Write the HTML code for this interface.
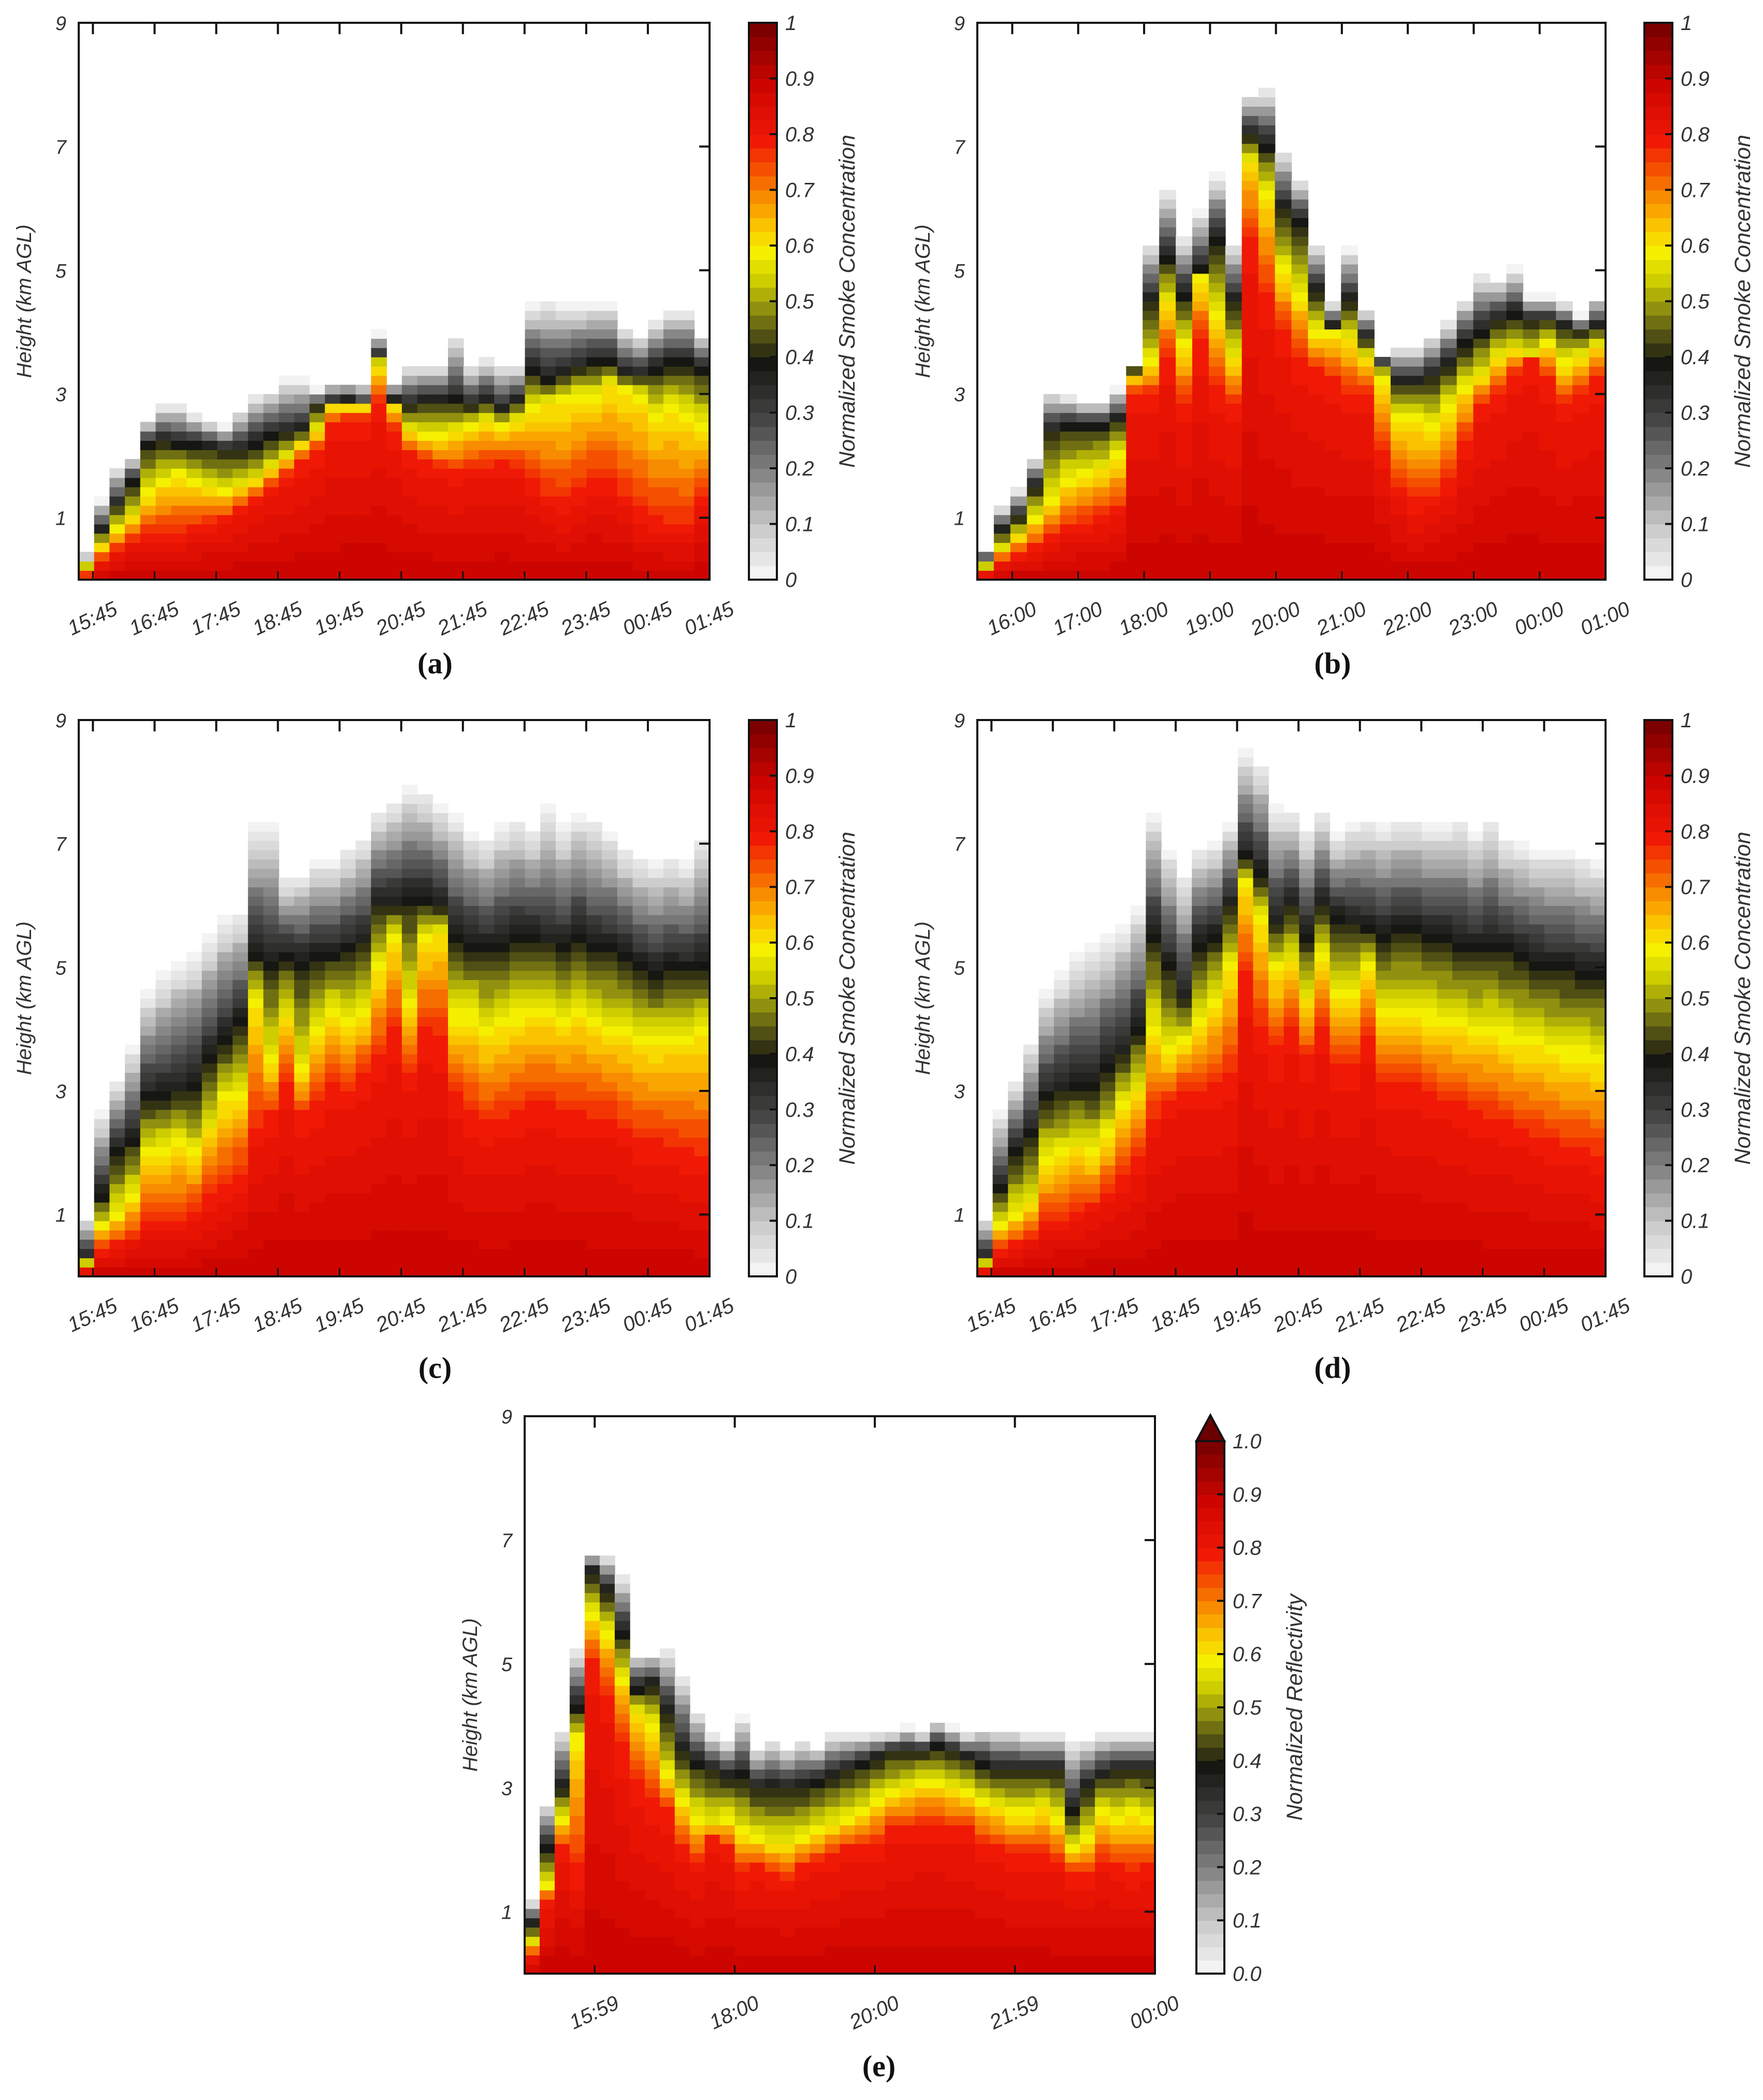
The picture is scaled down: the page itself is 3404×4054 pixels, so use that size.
<!DOCTYPE html>
<html><head><meta charset="utf-8"><style>
html,body{margin:0;padding:0;background:#fff;}
svg{display:block;}
</style></head><body>
<svg id="fig" width="3404" height="4054" viewBox="0 0 3404 4054" xmlns="http://www.w3.org/2000/svg"></svg>
<script>
// ---------- data (km heights per time column: smoke top, 0.4 level, 0.6 level, 0.8 level) ----------
const aTop=[0.4,1.3,1.85,2.0,2.6,2.85,2.85,2.7,2.6,2.5,2.8,3.0,3.1,3.3,3.3,3.1,3.2,3.2,3.2,4.0,3.2,3.5,3.5,3.5,4.0,3.5,3.6,3.5,3.5,4.5,4.6,4.5,4.5,4.5,4.5,4.1,4.0,4.2,4.4,4.4,4.0];
const aBlack=[0.3,0.8,1.2,1.6,2.2,2.25,2.2,2.2,2.15,2.1,2.1,2.2,2.3,2.35,2.4,2.8,2.85,2.9,2.8,3.6,2.9,2.8,2.9,2.9,2.9,2.8,2.9,2.75,2.9,3.4,3.2,3.3,3.4,3.5,3.5,3.3,3.3,3.4,3.5,3.5,3.4];
const aYellow=[0.2,0.55,0.8,1.0,1.4,1.6,1.7,1.6,1.5,1.4,1.5,1.6,1.8,2.0,2.2,2.4,2.8,2.8,2.8,3.5,2.85,2.4,2.3,2.3,2.4,2.5,2.6,2.5,2.6,2.8,2.9,2.9,3.0,3.0,3.2,3.1,3.0,2.7,2.8,2.7,2.5];
const aRed=[0.05,0.3,0.5,0.6,0.7,0.7,0.7,0.8,0.9,1.0,1.1,1.3,1.5,1.7,1.9,2.1,2.5,2.6,2.6,2.8,2.4,2.0,1.9,1.8,1.7,1.8,1.8,1.9,1.8,1.5,1.3,1.2,1.4,1.6,1.5,1.3,1.0,0.9,0.8,0.8,1.3];

const bTop=[0.5,1.2,1.5,2.0,3.1,3.0,2.9,2.9,3.1,3.5,5.5,6.4,5.6,6.0,6.6,5.5,7.9,8.0,7.0,6.5,5.5,4.5,5.4,4.4,3.6,3.8,3.8,4.0,4.2,4.6,5.0,4.9,5.1,4.6,4.6,4.5,4.3,4.6];
const bBlack=[0.3,0.8,1.0,1.5,2.4,2.5,2.5,2.5,2.6,3.4,4.5,5.2,4.6,5.0,5.5,4.5,7.2,7.0,6.0,5.8,4.7,4.1,4.5,3.9,3.5,3.2,3.2,3.3,3.5,3.8,4.0,4.2,4.3,4.2,4.2,4.1,4.0,4.1];
const bYellow=[0.2,0.5,0.7,1.0,1.3,1.6,1.7,1.8,2.0,3.3,3.5,4.5,3.8,4.9,4.3,3.6,6.8,6.3,5.0,4.6,4.0,4.0,3.9,3.6,3.3,2.6,2.6,2.5,2.8,3.1,3.3,3.6,3.7,3.6,3.8,3.5,3.6,3.8];
const bRed=[0.1,0.3,0.4,0.5,0.7,0.8,0.9,1.0,1.1,3.0,3.0,3.6,2.8,3.8,3.0,2.8,5.5,4.5,4.0,3.6,3.4,3.2,3.0,3.0,2.0,1.5,1.2,1.3,1.6,2.2,2.8,3.0,3.3,3.6,3.2,2.8,3.0,3.2];

const cTop=[1.0,2.7,3.2,3.8,4.7,5.0,5.2,5.4,5.6,5.9,6.0,7.4,7.4,6.5,6.6,6.8,6.8,7.0,7.2,7.6,7.8,8.0,7.9,7.7,7.6,7.3,7.2,7.4,7.5,7.3,7.8,7.4,7.6,7.5,7.3,7.0,6.9,6.8,6.9,6.8,7.2];
const cBlack=[0.3,1.3,2.0,2.2,2.9,2.9,3.0,3.0,3.5,3.8,4.1,5.2,5.1,5.2,5.1,5.2,5.2,5.3,5.4,6.0,6.0,6.1,6.1,6.0,5.5,5.4,5.3,5.4,5.5,5.5,5.4,5.3,5.5,5.3,5.3,5.2,5.0,4.9,5.0,5.0,5.0];
const cYellow=[0.2,0.8,1.0,1.3,2.0,2.1,2.2,2.0,2.4,2.9,3.0,4.5,3.5,4.2,3.3,4.0,4.3,4.1,4.3,5.0,5.5,4.4,5.5,5.6,4.2,4.2,4.0,4.1,4.2,4.3,4.3,4.2,4.3,4.2,4.0,4.0,3.9,3.8,3.9,3.9,4.0];
const cRed=[0.1,0.4,0.5,0.6,0.8,0.8,0.8,1.0,1.2,1.4,1.6,2.3,2.6,3.0,2.6,2.7,3.0,3.0,3.2,3.5,3.9,3.3,3.9,3.8,2.9,2.6,2.4,2.5,2.6,2.7,2.7,2.6,2.6,2.5,2.5,2.3,2.1,2.1,2.0,1.9,1.8];

const dTop=[1.0,2.7,3.2,3.9,4.7,5.0,5.3,5.5,5.7,5.8,6.1,7.6,7.0,6.6,7.0,7.1,7.4,8.6,8.4,7.7,7.6,7.3,7.6,7.2,7.4,7.5,7.4,7.5,7.5,7.4,7.4,7.5,7.3,7.5,7.2,7.1,7.0,7.0,7.0,6.9,6.8];
const dBlack=[0.3,1.4,2.0,2.3,2.9,3.0,3.1,3.1,3.3,3.6,4.0,5.5,5.0,4.5,5.4,5.5,6.0,6.8,6.5,5.7,6.0,5.5,6.0,5.8,5.7,5.6,5.5,5.6,5.6,5.5,5.5,5.4,5.3,5.4,5.3,5.2,5.1,5.0,5.0,4.9,4.9];
const dYellow=[0.2,0.8,1.0,1.2,1.9,2.0,2.1,2.0,2.3,2.8,3.0,4.0,3.6,3.8,4.1,4.5,5.0,6.4,5.8,5.0,5.1,4.5,5.2,4.5,4.6,5.0,4.3,4.3,4.3,4.2,4.1,4.1,4.0,4.0,3.9,3.8,3.8,3.7,3.6,3.6,3.5];
const dRed=[0.1,0.4,0.5,0.6,0.8,0.9,1.0,1.1,1.3,1.5,1.8,2.5,2.8,3.0,3.0,3.0,3.2,4.8,4.0,3.6,4.0,3.5,4.0,3.4,3.3,3.9,3.1,3.0,3.0,2.9,2.8,2.7,2.6,2.5,2.4,2.3,2.2,2.1,2.0,2.0,1.9];

const eTop=[1.2,2.8,4.0,5.3,6.8,6.8,6.5,5.2,5.2,5.3,4.9,4.3,3.9,3.8,4.2,3.7,3.8,3.7,3.8,3.7,3.9,3.9,3.9,3.9,3.9,4.0,3.9,4.1,4.0,3.9,4.0,4.0,4.0,3.9,3.9,3.9,3.8,3.8,3.9,3.9,3.9,3.9];
const eBlack=[0.8,2.0,3.0,4.3,6.5,6.2,5.5,4.6,4.7,4.2,3.6,3.4,3.3,3.2,3.2,3.0,3.0,3.0,3.0,3.1,3.2,3.3,3.4,3.5,3.6,3.6,3.6,3.7,3.6,3.5,3.4,3.3,3.3,3.3,3.3,3.3,2.6,3.0,3.2,3.3,3.3,3.3];
const eYellow=[0.5,1.4,2.5,3.8,5.8,5.5,4.8,4.2,4.0,3.2,2.8,2.5,2.4,2.5,2.3,2.2,2.1,2.1,2.2,2.3,2.4,2.5,2.6,2.8,2.9,3.0,3.1,3.1,3.0,2.9,2.8,2.7,2.6,2.6,2.7,2.5,2.0,2.2,2.6,2.5,2.6,2.5];
const eRed=[0.3,1.2,2.0,1.6,5.0,4.5,3.6,3.0,2.7,2.6,2.0,1.8,2.2,2.0,1.6,1.7,1.6,1.5,1.7,1.8,1.9,2.0,2.0,2.1,2.3,2.3,2.4,2.4,2.3,2.3,2.1,2.0,1.9,1.9,1.9,1.8,1.6,1.6,1.8,1.7,1.6,1.7];

const ticksA=["15:45","16:45","17:45","18:45","19:45","20:45","21:45","22:45","23:45","00:45","01:45"];
const tickHoursA=[15.75,16.75,17.75,18.75,19.75,20.75,21.75,22.75,23.75,24.75,25.75];
const ticksB=["16:00","17:00","18:00","19:00","20:00","21:00","22:00","23:00","00:00","01:00"];
const tickHoursB=[16,17,18,19,20,21,22,23,24,25];
const ticksE=["15:59","18:00","20:00","21:59","00:00"];
const tickHoursE=[16,18,20,22,24];
const yTicks=[1,3,5,7,9];
const cbTicks=[0,0.1,0.2,0.3,0.4,0.5,0.6,0.7,0.8,0.9,1];

// ---------- rendering ----------
const NS="http://www.w3.org/2000/svg";
const svg=document.getElementById('fig');
const SANS='font-family:"Liberation Sans",sans-serif';
function mk(tag,attrs,parent){const e=document.createElementNS(NS,tag);for(const k in attrs)e.setAttribute(k,attrs[k]);(parent||svg).appendChild(e);return e;}

const stops=[[0,[255,255,255]],[0.1,[205,205,205]],[0.2,[135,135,135]],[0.3,[70,70,70]],[0.4,[22,22,18]],[0.45,[80,80,20]],[0.5,[145,145,15]],[0.55,[205,205,0]],[0.6,[245,240,0]],[0.65,[250,195,0]],[0.7,[248,140,0]],[0.75,[245,80,0]],[0.8,[240,25,5]],[0.9,[205,5,0]],[1,[125,0,0]]];
function cmap(v){
  v=Math.max(0,Math.min(1,Math.round(v*40)/40));
  for(let i=1;i<stops.length;i++){if(v<=stops[i][0]){const a=stops[i-1],b=stops[i];const t=(v-a[0])/(b[0]-a[0]);
    const c=a[1].map((x,j)=>Math.round(x+(b[1][j]-x)*t));return `rgb(${c[0]},${c[1]},${c[2]})`;}}
  return 'rgb(125,0,0)';
}
function profile(h,top,bl,ye,re){
  if(h>=top)return 0;
  if(h>=bl)return 0.4*(top-h)/Math.max(top-bl,0.05);
  if(h>=ye)return 0.4+0.2*(bl-h)/Math.max(bl-ye,0.05);
  if(h>=re)return 0.6+0.2*(ye-h)/Math.max(ye-re,0.05);
  return 0.8+0.11*(re-h)/Math.max(re,0.05);
}

function panel(p){
  const g=mk('g',{});
  
  
  const W=p.x1-p.x0,H=p.y1-p.y0;
  const xs=h=>p.x0+(h-p.dom[0])/(p.dom[1]-p.dom[0])*W;
  const ys=k=>p.y1-k/9*H;
  const n=p.top.length,cw=W/n,rh=0.15;
  const hm=mk('g',{},g);
  
  
  for(let i=0;i<n;i++){
    for(let k=0;k<9;k+=rh){
      const v=profile(k+rh/2,p.top[i],p.black[i],p.yellow[i],p.red[i]);
      if(v<0.02)continue;
      const r=mk('rect',{x:(p.x0+i*cw).toFixed(1),y:ys(k+rh).toFixed(1),width:(cw+0.8).toFixed(1),height:(rh/9*H+0.8).toFixed(1),fill:cmap(v)},hm);
      
      
    }
  }
  const fr=mk('rect',{x:p.x0,y:p.y0,width:W,height:H,fill:'none',stroke:'#111','stroke-width':4},g);
  
  
  yTicks.forEach(t=>{
    const y=ys(t);
    mk('line',{x1:p.x1,x2:p.x1-20,y1:y,y2:y,stroke:'#111','stroke-width':4},g);
    const tx=mk('text',{x:p.x0-24,y:y+14,'text-anchor':'end','font-size':38,'font-style':'italic',fill:'#333',style:SANS},g);
    tx.textContent=t;
    
    
  });
  const yt=mk('text',{x:0,y:0,transform:`translate(${p.x0-92},${(p.y0+p.y1)/2}) rotate(-90)`,'text-anchor':'middle','font-size':40,'font-style':'italic',fill:'#333',style:SANS},g);
  yt.textContent='Height (km AGL)';
  
  
  p.tickH.forEach((h,i)=>{
    const x=xs(h);
    mk('line',{x1:x,x2:x,y1:p.y0,y2:p.y0+22,stroke:'#111','stroke-width':4},g);
    mk('line',{x1:x,x2:x,y1:p.y1,y2:p.y1-16,stroke:'#111','stroke-width':3},g);
    const tx=mk('text',{x:0,y:0,transform:`translate(${x+50},${p.y1+66}) rotate(-25)`,'text-anchor':'end','font-size':40,'font-style':'italic',fill:'#333',style:SANS},g);
    tx.textContent=p.tickL[i];
    
    
  });
  const cb=mk('g',{},g);
  
  
  const cy0=p.cy0,cy1=p.y1,steps=40;
  for(let s=0;s<steps;s++){
    const v=(s+0.5)/steps;
    const y=cy1-(s+1)/steps*(cy1-cy0);
    mk('rect',{x:p.cx0,y:y.toFixed(1),width:p.cx1-p.cx0,height:((cy1-cy0)/steps+0.8).toFixed(1),fill:cmap(v)},cb);
  }
  if(p.arrow){mk('polygon',{points:`${p.cx0},${cy0} ${p.cx1},${cy0} ${(p.cx0+p.cx1)/2},${cy0-50}`,fill:'#6a0000',stroke:'#111','stroke-width':4},cb);}
  mk('rect',{x:p.cx0,y:cy0,width:p.cx1-p.cx0,height:cy1-cy0,fill:'none',stroke:'#111','stroke-width':4},cb);
  cbTicks.forEach(t=>{
    const y=cy1-t*(cy1-cy0);
    mk('line',{x1:p.cx1,x2:p.cx1-14,y1:y,y2:y,stroke:'#111','stroke-width':4},cb);
    const tx=mk('text',{x:p.cx1+16,y:y+14,'font-size':40,'font-style':'italic',fill:'#333',style:SANS},cb);
    tx.textContent=p.arrow?t.toFixed(1):String(t);
    
    
  });
  const ct=mk('text',{x:0,y:0,transform:`translate(${p.cx1+150},${(cy0+cy1)/2}) rotate(-90)`,'text-anchor':'middle','font-size':43,'font-style':'italic',fill:'#333',style:SANS},cb);
  ct.textContent=p.cbTitle;
  
  
  const pl=mk('text',{x:p.lx,y:p.ly,'text-anchor':'middle','font-size':58,'font-weight':'bold',fill:'#111',style:'font-family:"Liberation Serif",serif'},g);
  pl.textContent='('+p.id+')';
  
  
}

const smoke='Normalized Smoke Concentration';
panel({id:'a',x0:152,x1:1370,y0:44,y1:1119,dom:[15.52,25.75],top:aTop,black:aBlack,yellow:aYellow,red:aRed,tickH:tickHoursA,tickL:ticksA,cx0:1446,cx1:1500,cy0:44,cbTitle:smoke,lx:840,ly:1300});
panel({id:'b',x0:1887,x1:3100,y0:44,y1:1119,dom:[15.47,25.0],top:bTop,black:bBlack,yellow:bYellow,red:bRed,tickH:tickHoursB,tickL:ticksB,cx0:3175,cx1:3229,cy0:44,cbTitle:smoke,lx:2573,ly:1300});
panel({id:'c',x0:152,x1:1370,y0:1390,y1:2464,dom:[15.52,25.75],top:cTop,black:cBlack,yellow:cYellow,red:cRed,tickH:tickHoursA,tickL:ticksA,cx0:1446,cx1:1500,cy0:1390,cbTitle:smoke,lx:840,ly:2660});
panel({id:'d',x0:1887,x1:3100,y0:1390,y1:2464,dom:[15.52,25.75],top:dTop,black:dBlack,yellow:dYellow,red:dRed,tickH:tickHoursA,tickL:ticksA,cx0:3175,cx1:3229,cy0:1390,cbTitle:smoke,lx:2573,ly:2660});
panel({id:'e',x0:1013,x1:2230,y0:2734,y1:3810,dom:[15.0,24.0],top:eTop,black:eBlack,yellow:eYellow,red:eRed,tickH:tickHoursE,tickL:ticksE,cx0:2310,cx1:2364,cy0:2782,arrow:true,cbTitle:'Normalized Reflectivity',lx:1697,ly:4008});
</script>
</body></html>
